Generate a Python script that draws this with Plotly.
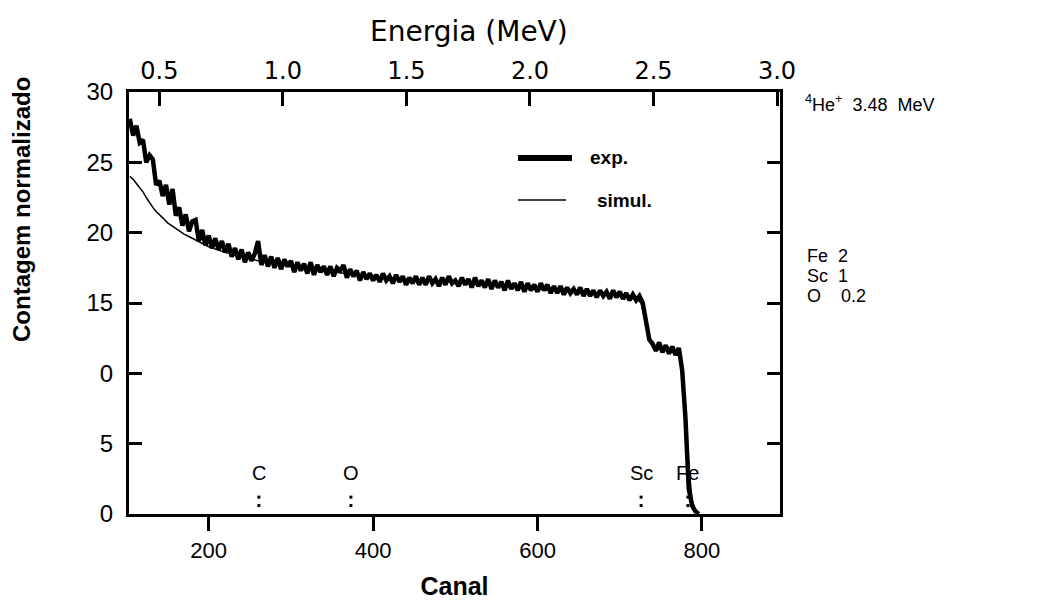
import plotly.graph_objects as go

# ---------------- data ----------------
exp_channels = list(range(104, 800, 4))
exp_counts = [
    28.1, 26.9, 27.6, 26.4, 26.6, 25.0, 25.5, 25.2, 23.4, 23.7,
    22.6, 23.4, 22.0, 23.1, 21.2, 21.8, 20.5, 21.3, 20.1, 20.8,
    20.9, 19.4, 20.2, 19.1, 19.8, 18.9, 19.6, 18.8, 19.4, 18.6,
    19.2, 18.3, 18.9, 18.1, 18.8, 17.9, 18.6, 18.0, 18.5, 19.4,
    17.7, 18.4, 17.6, 18.3, 17.5, 18.2, 17.4, 18.1, 17.6, 18.0,
    17.2, 17.9, 17.3, 17.8, 17.1, 17.9, 17.0, 17.7, 17.2, 17.6,
    17.0, 17.6, 16.9, 17.5, 17.3, 17.7, 16.8, 17.4, 16.9, 17.3,
    16.6, 17.2, 16.7, 17.1, 16.6, 17.0, 16.5, 17.1, 16.6, 16.9,
    16.4, 17.0, 16.5, 16.9, 16.3, 16.8, 16.4, 16.9, 16.3, 16.8,
    16.3, 16.9, 16.4, 16.7, 16.2, 16.8, 16.3, 16.9, 16.4, 16.6,
    16.2, 16.8, 16.3, 16.7, 16.1, 16.8, 16.2, 16.6, 16.1, 16.7,
    16.0, 16.6, 16.1, 16.5, 15.9, 16.6, 16.0, 16.4, 15.9, 16.5,
    15.8, 16.4, 15.9, 16.3, 15.8, 16.4, 15.9, 16.3, 15.7, 16.2,
    15.7, 16.2, 15.6, 16.1, 15.7, 16.0, 15.6, 16.1, 15.5, 16.0,
    15.5, 15.9, 15.4, 15.9, 15.5, 15.8, 15.3, 15.9, 15.4, 15.8,
    15.3, 15.7, 15.2, 15.6, 15.2, 15.5, 15.0, 13.6, 12.4, 12.1,
    11.6, 12.2, 11.5, 12.0, 11.4, 11.9, 11.3, 11.8, 10.2, 6.8,
    1.8, 0.6, 0.2, 0.0,
]

sim_channels = [104, 108, 112, 116, 120, 124, 128, 132, 136, 140, 145, 150, 155,
                160, 170, 180, 190, 200, 220, 240, 260, 280, 300, 340, 380, 420,
                460, 500, 540, 580, 620, 660, 700, 720, 726, 730, 734, 738, 744,
                760, 772, 776, 780, 784, 788, 792, 796]
sim_counts = [24.0, 23.8, 23.5, 23.2, 22.9, 22.5, 22.1, 21.8, 21.5, 21.3, 21.0, 20.7, 20.5,
              20.3, 19.9, 19.6, 19.3, 19.0, 18.6, 18.3, 18.0, 17.8, 17.6, 17.3, 17.0, 16.8,
              16.6, 16.5, 16.3, 16.1, 15.9, 15.7, 15.5, 15.3, 15.0, 14.0, 12.8, 12.1, 11.8,
              11.6, 11.4, 10.5, 7.5, 3.5, 1.0, 0.3, 0.0]

canal_ticks = [200, 400, 600, 800]
count_ticks = [0, 5, 10, 15, 20, 25, 30]
count_ticktext = ["0", "5", "0", "15", "20", "25", "30"]
energy_ticks = [0.5, 1.0, 1.5, 2.0, 2.5, 3.0]
energy_ticktext = ["0.5", "1.0", "1.5", "2.0", "2.5", "3.0"]

element_labels = ["C", "O", "Sc", "Fe"]
element_channels = [261, 373, 726, 783]
element_label_level = 2.9
element_dot_levels = [1.2, 0.6]

# ---------------- figure ----------------
W, H = 1045, 606
L, R, T, B = 129, 780, 92, 514     # plot frame in window pixels
OFF = 8                            # page body margin

fig = go.Figure()
fig.add_trace(go.Scatter(x=exp_channels, y=exp_counts, mode="lines",
                         line=dict(color="black", width=4.5), name="exp.",
                         showlegend=False))
fig.add_trace(go.Scatter(x=sim_channels, y=sim_counts, mode="lines",
                         line=dict(color="black", width=1.5), name="simul.",
                         showlegend=False))
# dotted edge markers under the element labels
dot_x = [ch for ch in element_channels for _ in element_dot_levels]
dot_y = [lv for _ in element_channels for lv in element_dot_levels]
fig.add_trace(go.Scatter(x=dot_x, y=dot_y, mode="markers",
                         marker=dict(color="black", size=3, symbol="square"),
                         showlegend=False, hoverinfo="skip"))
# invisible trace carrying the top (energy) axis
fig.add_trace(go.Scatter(x=energy_ticks, y=[None] * len(energy_ticks), xaxis="x2",
                         mode="lines", showlegend=False, hoverinfo="skip"))

leftfont = dict(family="Liberation Sans, Arial, sans-serif", size=24, color="black")
botfont = dict(family="Liberation Sans, Arial, sans-serif", size=22, color="black")
topfont = dict(family="DejaVu Sans, sans-serif", size=24, color="black")

fig.update_layout(
    width=W - OFF, height=H - OFF,
    margin=dict(l=L - OFF, r=W - R, t=T - OFF, b=H - B, pad=0, autoexpand=False),
    paper_bgcolor="white", plot_bgcolor="white",
    xaxis=dict(range=[103, 895], tickvals=canal_ticks, ticks="outside", ticklen=14,
               tickwidth=2.5, tickcolor="black", showline=True, linewidth=3,
               linecolor="black", mirror=True, showgrid=False, zeroline=False,
               tickfont=botfont, ticklabelstandoff=1,
               title=dict(text="<b>Canal</b>", standoff=16,
                          font=dict(family="Liberation Sans, Arial, sans-serif", size=25,
                                    color="black"))),
    xaxis2=dict(range=[0.377, 3.012], overlaying="x", side="top", tickvals=energy_ticks,
                ticktext=energy_ticktext, ticks="inside", ticklen=14, tickwidth=2.5,
                tickcolor="black", showline=False, showgrid=False, zeroline=False,
                tickfont=topfont, anchor="y", ticklabelstandoff=7),
    yaxis=dict(range=[0, 30], tickvals=count_ticks, ticktext=count_ticktext,
               ticks="inside", ticklen=13, tickwidth=2.5, tickcolor="black",
               showline=True, linewidth=3, linecolor="black", mirror="ticks",
               showgrid=False, zeroline=False, tickfont=leftfont,
               ticklabelstandoff=8),
)

pw, ph = R - L, B - T


def px(x):
    return (x - L) / pw


def py(y):
    return (B - y) / ph


# top axis title
fig.add_annotation(text="Energia (MeV)", xref="paper", yref="paper",
                   x=px(469), y=py(31), xanchor="center", yanchor="middle",
                   showarrow=False,
                   font=dict(family="DejaVu Sans, sans-serif", size=28, color="black"))

# y-axis title placed as in the reference
fig.add_annotation(text="<b>Contagem normalizado</b>", xref="paper", yref="paper",
                   x=px(21), y=py(210), xanchor="center", yanchor="middle",
                   textangle=-90, showarrow=False,
                   font=dict(family="Liberation Sans, Arial, sans-serif", size=24,
                             color="black"))

# legend drawn by hand
fig.add_shape(type="line", xref="paper", yref="paper", x0=px(518), x1=px(572),
              y0=py(158), y1=py(158), line=dict(color="black", width=6))
fig.add_shape(type="line", xref="paper", yref="paper", x0=px(518), x1=px(566),
              y0=py(200), y1=py(200), line=dict(color="black", width=1.5))
legfont = dict(family="Liberation Sans, Arial, sans-serif", size=19, color="black")
fig.add_annotation(text="<b>exp.</b>", xref="paper", yref="paper", x=px(588), y=py(157),
                   xanchor="left", yanchor="middle", showarrow=False, font=legfont)
fig.add_annotation(text="<b>simul.</b>", xref="paper", yref="paper", x=px(595), y=py(200),
                   xanchor="left", yanchor="middle", showarrow=False, font=legfont)

# right-hand notes
notefont = dict(family="Liberation Sans, Arial, sans-serif", size=18, color="black")
fig.add_annotation(text="<sup>4</sup>He<sup>+</sup>  3.48  MeV", xref="paper", yref="paper",
                   x=px(803), y=py(104), xanchor="left", yanchor="middle",
                   showarrow=False, font=notefont)
for txt, yy in [("Fe  2", 256), ("Sc  1", 276), ("O    0.2", 296)]:
    fig.add_annotation(text=txt, xref="paper", yref="paper", x=px(805), y=py(yy),
                       xanchor="left", yanchor="middle", showarrow=False, font=notefont)

# element edge labels
elfont = dict(family="Liberation Sans, Arial, sans-serif", size=20, color="black")
for lab, ch in zip(element_labels, element_channels):
    fig.add_annotation(text=lab, x=ch, y=element_label_level, xref="x", yref="y",
                       showarrow=False, xanchor="center", yanchor="middle", font=elfont)

fig.write_html("out.html")
